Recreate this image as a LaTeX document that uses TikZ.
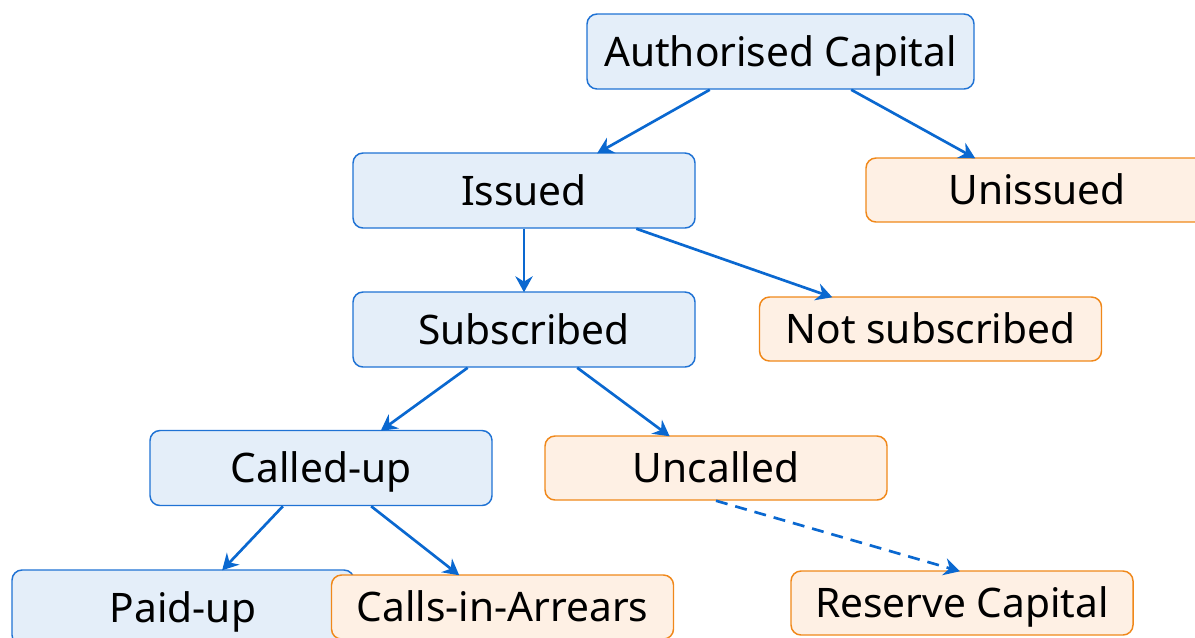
\documentclass[tikz,border=0pt]{standalone}
\usepackage{fontspec}
\setmainfont{Noto Sans}
\usetikzlibrary{arrows.meta,calc}
\definecolor{bluefill}{HTML}{E4EEF9}
\definecolor{blueline}{HTML}{1F72D4}
\definecolor{orangefill}{HTML}{FEF0E4}
\definecolor{orangeline}{HTML}{F0881A}
\definecolor{arrowblue}{HTML}{0A68D0}
\tikzset{
  box/.style={rounded corners=7.5pt, line width=1.1pt, minimum width=256.5pt,
    inner sep=0pt, font=\fontsize{30.5}{36}\selectfont, text height=24pt, text depth=2.2pt},
  bluebox/.style={box, fill=bluefill, draw=blueline, minimum height=56.25pt},
  orangebox/.style={box, fill=orangefill, draw=orangeline, minimum height=48pt},
  link/.style={draw=arrowblue, line width=2pt,
    -{Stealth[length=12pt,width=13pt,inset=4pt]}},
  dashedlink/.style={link, dash pattern=on 9pt off 6pt},
}
\begin{document}
\begin{tikzpicture}[x=0.75pt,y=-0.75pt]
\useasboundingbox (0,0) rectangle (1195,637);
\clip (0,0) rectangle (1195,637);
% tree of capital categories
\node[bluebox, minimum width=290.25pt] (auth) at (780.5,51.5) {Authorised Capital};
\node[bluebox] (issued) at (524,190.5) {Issued};
\node[orangebox] (unissued) at (1037,190) {Unissued};
\node[bluebox] (subscribed) at (524,329.5) {Subscribed};
\node[orangebox] (notsub) at (930.5,329) {Not subscribed};
\node[bluebox] (calledup) at (321,468) {Called-up};
\node[orangebox] (uncalled) at (716,468) {Uncalled};
\node[bluebox] (paidup) at (183,607.5) {Paid-up};
\node[orangebox] (calls) at (502.5,607) {Calls-in-Arrears};
\node[orangebox] (reserve) at (962,603) {Reserve Capital};
% connectors
\draw[link] ($(auth.south west)!0.318!(auth.south east)$) -- ($(issued.north west)!0.713!(issued.north east)+(0,1)$);
\draw[link] ($(auth.south west)!0.682!(auth.south east)$) -- ($(unissued.north west)!0.32!(unissued.north east)+(0,1)$);
\draw[link] (issued.south) -- ($(subscribed.north)+(0,1)$);
\draw[link] ($(issued.south west)!0.827!(issued.south east)$) -- ($(notsub.north west)!0.214!(notsub.north east)+(0,1)$);
\draw[link] ($(subscribed.south west)!0.336!(subscribed.south east)$) -- ($(calledup.north west)!0.674!(calledup.north east)+(0,1)$);
\draw[link] ($(subscribed.south west)!0.655!(subscribed.south east)$) -- ($(uncalled.north west)!0.365!(uncalled.north east)+(0,1)$);
\draw[link] ($(calledup.south west)!0.389!(calledup.south east)$) -- ($(paidup.north west)!0.614!(paidup.north east)+(0,1)$);
\draw[link] ($(calledup.south west)!0.646!(calledup.south east)$) -- ($(calls.north west)!0.374!(calls.north east)+(0,1)$);
\draw[dashedlink] (uncalled.south) -- ($(reserve.north west)!0.494!(reserve.north east)+(0,1)$);
\end{tikzpicture}
\end{document}
